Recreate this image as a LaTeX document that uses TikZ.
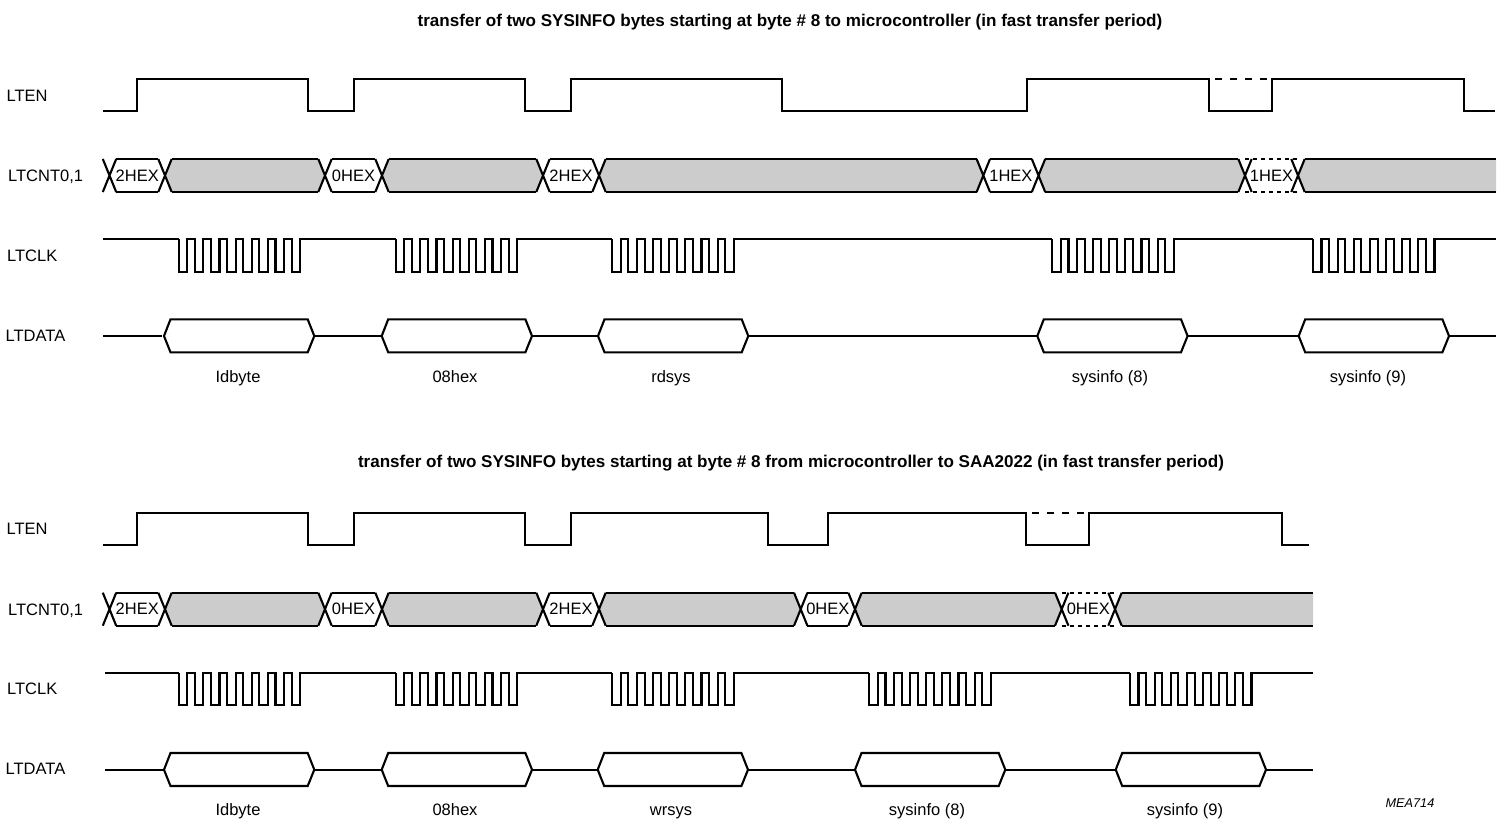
\documentclass[tikz,border=0pt]{standalone}
\usepackage{fontspec}
\setmainfont{Liberation Sans}
\newcommand{\hw}{6.7}
% coordinates are given for the upper panel; the lower panel is a shifted scope
\newcommand{\grayspan}[2]{%
  \fill[grayfill] (#1,175.5) -- (#1+\hw,159) -- (#2-\hw,159) -- (#2,175.5) -- (#2-\hw,192) -- (#1+\hw,192) -- cycle;
  \draw[sig] (#1+\hw,159) -- (#2-\hw,159) (#1+\hw,192) -- (#2-\hw,192);}
\newcommand{\grayend}[2]{%
  \fill[grayfill] (#1,175.5) -- (#1+\hw,159) -- (#2,159) -- (#2,192) -- (#1+\hw,192) -- cycle;
  \draw[sig] (#1+\hw,159) -- (#2,159) (#1+\hw,192) -- (#2,192);}
\newcommand{\xing}[1]{\draw[sig] (#1-\hw,159) -- (#1+\hw,192) (#1-\hw,192) -- (#1+\hw,159);}
\newcommand{\hexval}[4]{%
  \draw[sig] (#1+\hw,159) -- (#2-\hw,159) (#1+\hw,192) -- (#2-\hw,192);
  \node[lab,anchor=center] (#3) at ({(#1+#2)/2},175.5) {#4};}
\newcommand{\hexdot}[4]{%
  \draw[sigdot] (#1,159) -- (#2+1,159) (#1,192) -- (#2+1,192);
  \node[lab,anchor=center] (#3) at ({(#1+#2)/2},175.5) {#4};}
\newcommand{\burst}[1]{%
  \draw[sig] (#1,239.3)
  \foreach \k in {0,...,7}{ -- ++(0,32.4) -- ++(8.5,0) -- ++(0,-32.4) -- ++(7.64,0) };}
\newcommand{\datahex}[1]{%
  \draw[sig] (#1,336) -- (#1+6.5,319.3) -- (#1+143.7,319.3) -- (#1+150.3,336) -- (#1+143.7,352.3) -- (#1+6.5,352.3) -- cycle;}
\tikzset{
  x=1pt,y=-1pt,
  sig/.style={line width=2.1pt,black,line join=miter},
  sigdash/.style={line width=2.1pt,black,dash pattern=on 7pt off 8pt},
  sigdot/.style={line width=2.1pt,black,dash pattern=on 4pt off 4pt},
  lab/.style={inner sep=0pt,anchor=base,font=\fontsize{16.5}{18}\selectfont},
  rowlab/.style={lab,anchor=base west},
  ttl/.style={inner sep=0pt,anchor=base,font=\fontsize{17.05}{20}\selectfont\bfseries},
}
\colorlet{grayfill}{black!20}
\begin{document}
\begin{tikzpicture}
\useasboundingbox (0,0) rectangle (1506,826);
% ---------- upper panel ----------
\node[ttl] (title1) at (790,27) {transfer of two SYSINFO bytes starting at byte \# 8 to microcontroller (in fast transfer period)};
\node[rowlab] (aEN) at (6.5,101.5) {LTEN};
\node[rowlab] (aCNT) at (8,182) {LTCNT0,1};
\node[rowlab] (aCLK) at (7,261.5) {LTCLK};
\node[rowlab] (aDATA) at (5.5,341.5) {LTDATA};
\draw[sig] (103,111) -- (137,111) -- (137,79) -- (307.7,79) -- (307.7,111) -- (354,111) -- (354,79)
  -- (524.7,79) -- (524.7,111) -- (570.7,111) -- (570.7,79) -- (782,79) -- (782,111) -- (1027,111)
  -- (1027,79) -- (1209,79) -- (1209,111) -- (1272,111) -- (1272,79) -- (1464,79) -- (1464,111) -- (1495,111);
\draw[sigdash] (1215,79) -- (1268,79);
\grayspan{165}{325}
\grayspan{382}{543}
\grayspan{599}{983.3}
\grayspan{1038.5}{1245}
\grayend{1298}{1496}
\hexval{109.5}{165}{a1}{2HEX}
\hexval{325}{382}{a2}{0HEX}
\hexval{543}{599}{a3}{2HEX}
\hexval{983.3}{1038.5}{a4}{1HEX}
\hexdot{1245}{1298}{a5}{1HEX}
\foreach \c in {109.5,165,325,382,543,599,983.3,1038.5,1245,1298}{\xing{\c}}
\draw[sig] (103,239.3) -- (178.7,239.3);
\burst{178.7} \draw[sig] (307,239.3) -- (395.7,239.3);
\burst{395.7} \draw[sig] (524,239.3) -- (612.3,239.3);
\burst{612.3} \draw[sig] (740,239.3) -- (1052.3,239.3);
\burst{1052.3} \draw[sig] (1180,239.3) -- (1313,239.3);
\burst{1313} \draw[sig] (1440,239.3) -- (1496,239.3);
\draw[sig] (103,336) -- (162,336) (314.3,336) -- (381.7,336) (532,336) -- (598,336)
  (748.3,336) -- (1037.3,336) (1187.6,336) -- (1298.7,336) (1449,336) -- (1496,336);
\foreach \x in {164,381.7,598,1037.3,1298.7}{\datahex{\x}}
\node[lab] (a6) at (238,382.2) {Idbyte};
\node[lab] (a7) at (455,382.2) {08hex};
\node[lab] (a8) at (671,382.2) {rdsys};
\node[lab] (a9) at (1110,382.2) {sysinfo (8)};
\node[lab] (a10) at (1368,382.2) {sysinfo (9)};
% ---------- lower panel ----------
\node[ttl] (title2) at (791,467.5) {transfer of two SYSINFO bytes starting at byte \# 8 from microcontroller to SAA2022 (in fast transfer period)};
\node[rowlab] (bEN) at (6.5,534) {LTEN};
\node[rowlab] (bCNT) at (8,615.5) {LTCNT0,1};
\node[rowlab] (bCLK) at (7,694) {LTCLK};
\node[rowlab] (bDATA) at (5.5,774.5) {LTDATA};
\node[inner sep=0pt,anchor=base,font=\fontsize{12.7}{14}\selectfont\itshape] (code) at (1410,807) {MEA714};
\begin{scope}[shift={(0,433.7)}]
\draw[sig] (103,111) -- (137,111) -- (137,79) -- (307.7,79) -- (307.7,111) -- (354,111) -- (354,79)
  -- (524.7,79) -- (524.7,111) -- (570.7,111) -- (570.7,79) -- (768,79) -- (768,111) -- (827.7,111)
  -- (827.7,79) -- (1026,79) -- (1026,111) -- (1089.3,111) -- (1089.3,79) -- (1281.7,79) -- (1281.7,111) -- (1309.3,111);
\draw[sigdash] (1032,79) -- (1085,79);
\grayspan{165}{325}
\grayspan{382}{543}
\grayspan{599}{800.7}
\grayspan{855}{1061.7}
\grayend{1115}{1313}
\hexval{109.5}{165}{b1}{2HEX}
\hexval{325}{382}{b2}{0HEX}
\hexval{543}{599}{b3}{2HEX}
\hexval{800.7}{855}{b4}{0HEX}
\hexdot{1061.7}{1115}{b5}{0HEX}
\foreach \c in {109.5,165,325,382,543,599,800.7,855,1061.7,1115}{\xing{\c}}
\draw[sig] (105,239.3) -- (178.7,239.3);
\burst{178.7} \draw[sig] (307,239.3) -- (395.7,239.3);
\burst{395.7} \draw[sig] (524,239.3) -- (612.3,239.3);
\burst{612.3} \draw[sig] (740,239.3) -- (869.3,239.3);
\burst{869.3} \draw[sig] (997,239.3) -- (1130,239.3);
\burst{1130} \draw[sig] (1258,239.3) -- (1313,239.3);
\draw[sig] (105,336) -- (164,336) (314.3,336) -- (381.7,336) (532,336) -- (597.7,336)
  (748,336) -- (855,336) (1005.3,336) -- (1115.7,336) (1266,336) -- (1313,336);
\foreach \x in {164,381.7,597.7,855,1115.7}{\datahex{\x}}
\node[lab] (b6) at (238,381.8) {Idbyte};
\node[lab] (b7) at (455,381.8) {08hex};
\node[lab] (b8) at (671,381.8) {wrsys};
\node[lab] (b9) at (927,381.8) {sysinfo (8)};
\node[lab] (b10) at (1185,381.8) {sysinfo (9)};
\end{scope}
\end{tikzpicture}
\end{document}
